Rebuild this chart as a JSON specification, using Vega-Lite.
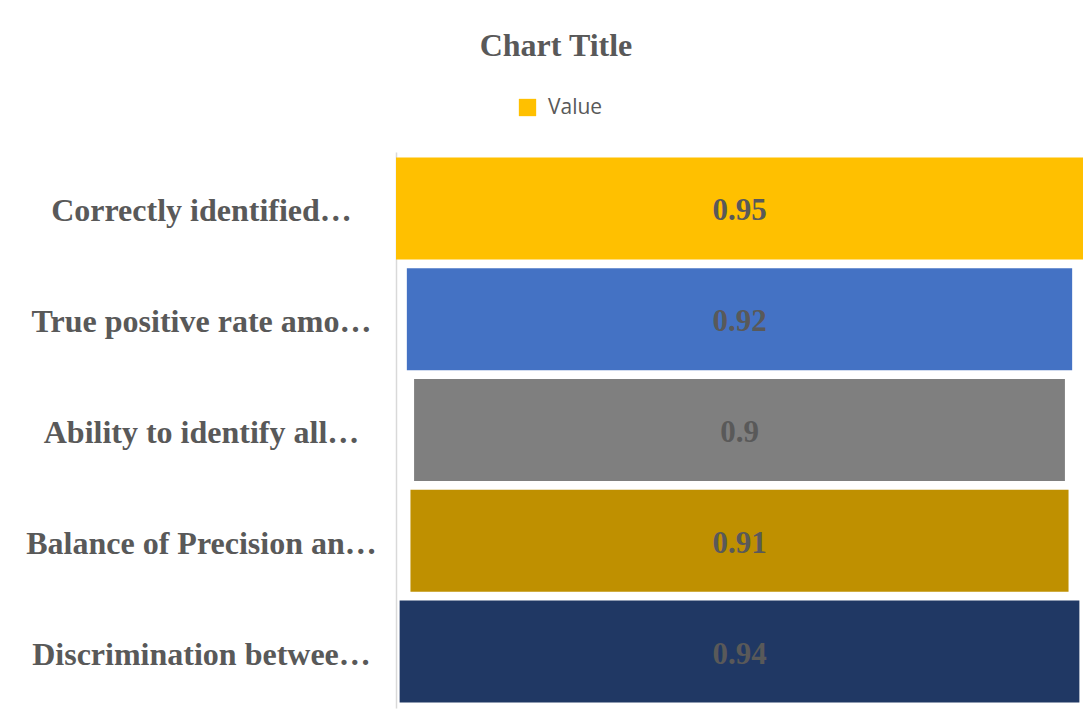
{
  "$schema": "https://vega.github.io/schema/vega-lite/v6.json",
  "width": 687,
  "height": 556,
  "autosize": {"type": "none"},
  "padding": {"left": 396, "top": 152, "right": 5, "bottom": 10},
  "background": "white",
  "title": {
    "text": "Chart Title",
    "font": "Liberation Serif",
    "fontSize": 32,
    "fontWeight": "bold",
    "color": "#595959",
    "anchor": "middle",
    "dx": -183.5,
    "offset": 34
  },
  "data": {
    "values": [
      {"Metric": "Correctly identified…", "Value": 0.95},
      {"Metric": "True positive rate amo…", "Value": 0.92},
      {"Metric": "Ability to identify all…", "Value": 0.9},
      {"Metric": "Balance of Precision an…", "Value": 0.91},
      {"Metric": "Discrimination betwee…", "Value": 0.94}
    ]
  },
  "encoding": {
    "y": {
      "field": "Metric",
      "type": "nominal",
      "sort": null,
      "scale": {"paddingInner": 0.08, "paddingOuter": 0.05},
      "axis": {
        "title": null,
        "ticks": false,
        "grid": false,
        "domainColor": "#d9d9d9",
        "domainWidth": 1.5,
        "labelAlign": "center",
        "labelPadding": 195,
        "labelOffset": 3,
        "labelLimit": 0,
        "labelFont": "Liberation Serif",
        "labelFontSize": 32,
        "labelFontWeight": "bold",
        "labelColor": "#595959"
      }
    }
  },
  "layer": [
    {
      "mark": {"type": "bar"},
      "encoding": {
        "x": {
          "field": "Value",
          "type": "quantitative",
          "stack": "center",
          "scale": {"domain": [0, 0.95], "nice": false, "zero": false},
          "axis": null
        },
        "color": {
          "field": "Metric",
          "type": "nominal",
          "scale": {
            "domain": ["Correctly identified…", "True positive rate amo…", "Ability to identify all…", "Balance of Precision an…", "Discrimination betwee…"],
            "range": ["#FFC000", "#4472C4", "#7F7F7F", "#BF9000", "#203864"]
          },
          "legend": {
            "values": ["Correctly identified…"],
            "labelExpr": "'Value'",
            "orient": "none",
            "legendX": 121,
            "legendY": -55,
            "title": null,
            "padding": 0,
            "symbolType": "square",
            "symbolSize": 300,
            "symbolStrokeWidth": 0,
            "labelFont": "Open Sans",
            "labelFontSize": 21,
            "labelColor": "#595959",
            "labelOffset": 10
          }
        }
      }
    },
    {
      "mark": {
        "type": "text",
        "font": "Liberation Serif",
        "fontSize": 31,
        "fontWeight": "bold",
        "color": "#595959",
        "align": "center",
        "baseline": "middle",
        "dy": 3
      },
      "encoding": {
        "x": {"datum": 0.475, "type": "quantitative"},
        "text": {"field": "Value", "type": "quantitative"}
      }
    }
  ],
  "config": {"view": {"stroke": null}}
}
